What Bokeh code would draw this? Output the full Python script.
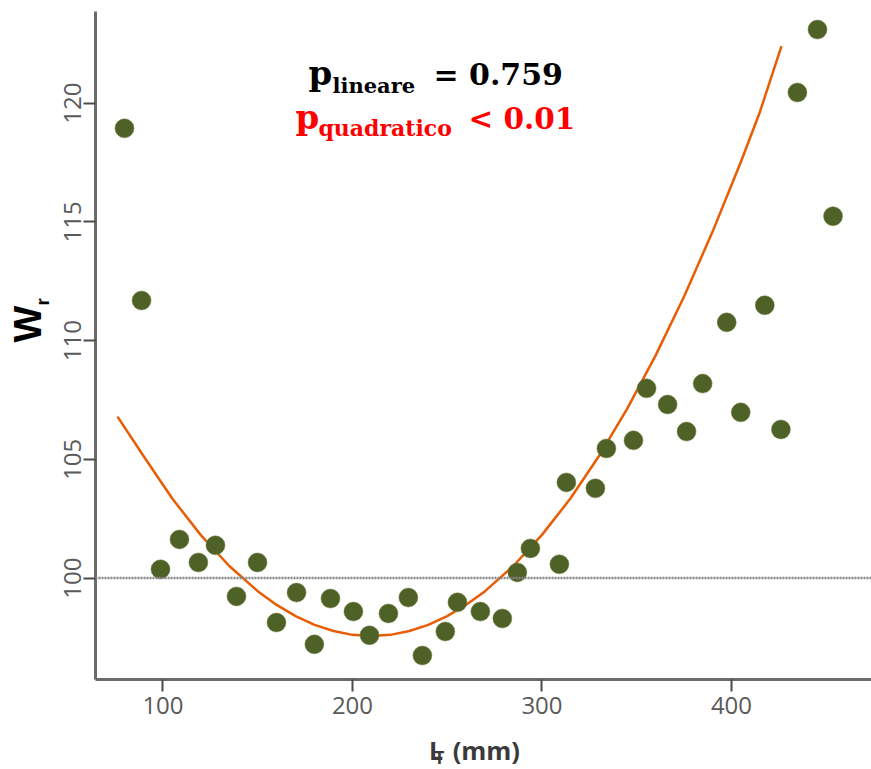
import numpy as np
from bokeh.plotting import figure
from bokeh.models import Span, Label, FixedTicker
from bokeh.layouts import row, column
from bokeh.embed import file_html
from bokeh.resources import INLINE

# data
lt_mm = [79.7, 88.7, 98.7, 108.7, 118.7, 127.7, 138.8, 149.9, 159.9, 170.5,
         179.9, 188.4, 200.5, 209.0, 219.0, 229.5, 236.9, 249.0, 255.4, 267.5,
         279.1, 287.0, 293.9, 309.2, 312.9, 328.2, 334.0, 348.3, 355.2, 366.3,
         376.3, 384.8, 397.5, 404.9, 417.6, 426.1, 434.8, 445.4, 453.6]
wr = [118.94, 111.69, 100.37, 101.63, 100.66, 101.38, 99.23, 100.66, 98.13, 99.39,
      97.21, 99.14, 98.59, 97.59, 98.51, 99.18, 96.74, 97.75, 98.98, 98.59,
      98.30, 100.24, 101.25, 100.58, 104.03, 103.78, 105.46, 105.80, 107.99, 107.31,
      106.17, 108.19, 110.77, 106.98, 111.49, 106.26, 120.45, 123.10, 115.24]

fit_x = [76, 90, 105, 120, 135, 150, 160, 170, 180, 190, 200, 210, 220, 230, 240,
         250, 260, 270, 285, 300, 315, 330, 345, 360, 375, 390, 405, 415, 426.4]
fit_y = [106.8, 105.11, 103.34, 101.81, 100.51, 99.45, 98.87, 98.40, 98.03, 97.77,
         97.61, 97.56, 97.61, 97.77, 98.03, 98.40, 98.88, 99.45, 100.52, 101.82,
         103.35, 105.13, 107.14, 109.38, 111.86, 114.58, 117.53, 119.63, 122.4]

x_ticks = [100, 200, 300, 400]
y_ticks = [100, 105, 110, 115, 120]
reference_wr = 100

X_RANGE = (64.4, 473.9)
Y_RANGE = (95.73, 123.86)

def px_x(px):
    return 100 + (px - 162.5) / 1.895

def px_y(py):
    return 100 + (577.7 - py) / 23.74

K = 0.36  # baseline correction (fraction of font size)

# ---------------- main plot ----------------
p = figure(width=817, height=728, output_backend="svg", toolbar_location=None,
           x_range=X_RANGE, y_range=Y_RANGE,
           min_border_left=41, min_border_right=0, min_border_top=11, min_border_bottom=49)
p.outline_line_color = None
p.xgrid.visible = False
p.ygrid.visible = False

for ax in (p.xaxis[0], p.yaxis[0]):
    ax.axis_line_color = "#6b6b6b"
    ax.axis_line_width = 3
    ax.major_tick_line_color = "#4a4a4a"
    ax.major_tick_line_width = 2
    ax.major_tick_out = 12
    ax.major_tick_in = 0
    ax.minor_tick_line_color = None
    ax.major_label_text_font = "Open Sans"
    ax.major_label_text_font_size = "24px"
    ax.major_label_text_color = "#5a5a5a"
p.xaxis.ticker = FixedTicker(ticks=x_ticks)
p.yaxis.ticker = FixedTicker(ticks=y_ticks)
p.yaxis.major_label_orientation = "vertical"
p.xaxis.major_label_standoff = 5
p.yaxis.major_label_standoff = 2

p.add_layout(Span(location=reference_wr, dimension="width", line_color="#858585",
                  line_width=2.5, line_dash="2 1"))

p.line(fit_x, fit_y, line_color="#E85D04", line_width=2.5)
p.scatter(lt_mm, wr, size=19, fill_color="#4E6126", line_color="#6f8040",
          line_width=1, line_alpha=0.5)

serif = "DejaVu Serif"
def lab(fig, x, y, text, size, color, font=serif, angle=0.0, style="bold"):
    fig.add_layout(Label(x=x, y=y, text=text, text_font=font, text_font_size=f"{size}px",
                         text_color=color, text_font_style=style, angle=angle,
                         text_align="left", text_baseline="alphabetic"))

def main_lab(left_px, base_px, text, size, color):
    lab(p, px_x(left_px), px_y(base_px - K * size), text, size, color)

main_lab(308, 85, "p", 34, "black")
main_lab(332, 92.7, "lineare", 21, "black")
main_lab(433, 85, "= 0.759", 30, "black")
main_lab(295, 129, "p", 34, "#FF0000")
main_lab(318, 136, "quadratico", 22, "#FF0000")
main_lab(468, 129.3, "< 0.01", 29.5, "#FF0000")

# ---------------- y-axis title strip ----------------
left = figure(width=54, height=769, output_backend="svg", toolbar_location=None,
              x_range=(0, 54), y_range=(0, 769), x_axis_type=None, y_axis_type=None,
              min_border_left=0, min_border_right=0, min_border_top=0, min_border_bottom=0)
left.grid.visible = False
left.outline_line_color = None
lab(left, 41 - K * 39, 769 - 342, "W", 39, "black", font="Liberation Sans", angle=np.pi / 2)
lab(left, 48.5 - K * 19, 769 - 305, "r", 19, "black", font="Liberation Sans", angle=np.pi / 2)

# ---------------- x-axis title strip ----------------
DX = -22  # empirical horizontal correction of this strip
bottom = figure(width=817, height=41, output_backend="svg", toolbar_location=None,
                x_range=(54, 871), y_range=(0, 41), x_axis_type=None, y_axis_type=None,
                min_border_left=0, min_border_right=0, min_border_top=0, min_border_bottom=0)
bottom.grid.visible = False
bottom.outline_line_color = None
lab(bottom, 427 + DX, 769 - (758.5 - K * 25), "L", 25, "#3a3a3a", font="Open Sans")
lab(bottom, 433 + DX, 769 - (763.5 - K * 17), "T", 17, "#3a3a3a", font="Open Sans")
lab(bottom, 452 + DX, 769 - (758.5 - K * 25), "(mm)", 25.5, "#3a3a3a", font="Open Sans")

layout = row(left, column(p, bottom))
open("out.html", "w").write(file_html(layout, INLINE))
